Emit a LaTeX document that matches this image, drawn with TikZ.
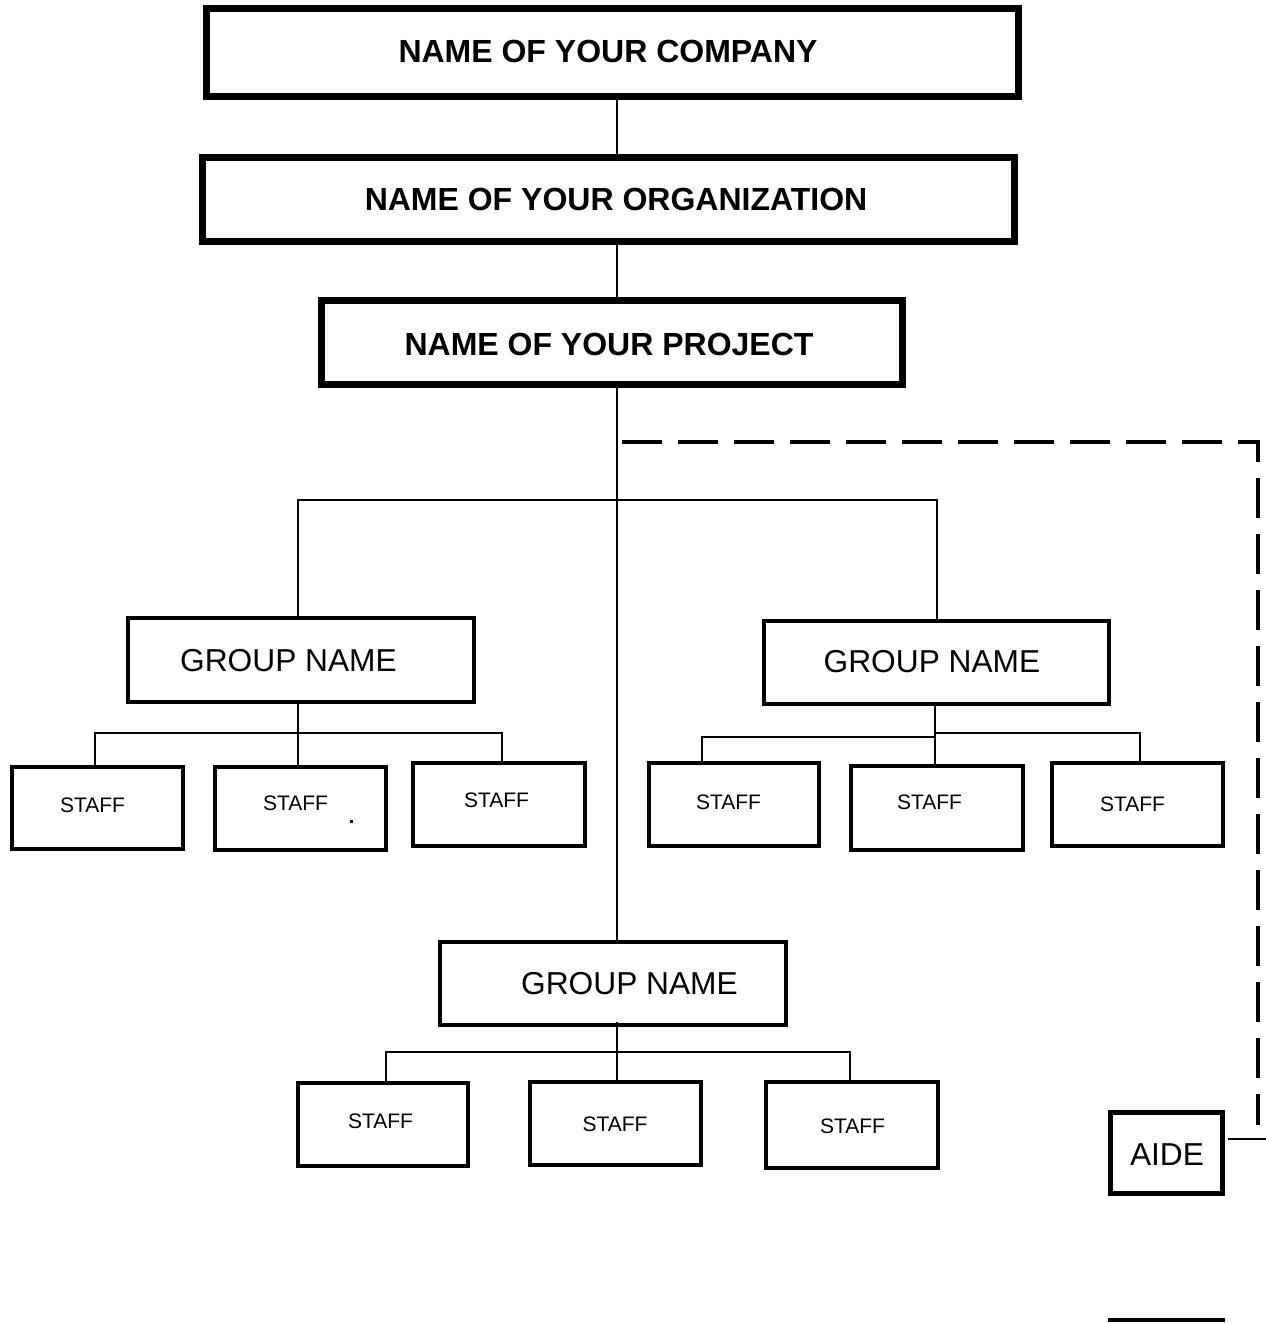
\documentclass[tikz,border=0pt]{standalone}
\usepackage{fontspec}
\setmainfont{Liberation Sans}
\begin{document}
\begin{tikzpicture}[x=1pt,y=-1pt,
  topbox/.style={draw=black,line width=7.5pt,inner sep=0pt},
  grpbox/.style={draw=black,line width=4pt,inner sep=0pt},
  staffbox/.style={draw=black,line width=4.5pt,inner sep=0pt},
  aidebox/.style={draw=black,line width=5pt,inner sep=0pt},
  toptext/.style={font=\fontsize{32}{36}\selectfont\bfseries,inner sep=0pt},
  grptext/.style={font=\fontsize{31.7}{36}\selectfont,inner sep=0pt},
  stafftext/.style={font=\fontsize{21}{25}\selectfont,inner sep=0pt},
  conn/.style={draw=black,line width=2pt},
  dashline/.style={draw=black,line width=3.2pt,dash pattern=on 40pt off 16pt},
]
\useasboundingbox (0,0) rectangle (1266,1323);
\fill[white] (0,0) rectangle (1266,1323);

% top boxes
\node[topbox,minimum width=812pt,minimum height=88pt] (comp) at (612.5,52.5) {};
\node[toptext] (compt) at (608,51) {NAME OF YOUR COMPANY};
\node[topbox,minimum width=812pt,minimum height=84pt] (org) at (608.5,199.5) {};
\node[toptext] (orgt) at (616,199) {NAME OF YOUR ORGANIZATION};
\node[topbox,minimum width=581pt,minimum height=84pt] (proj) at (612,342.5) {};
\node[toptext] (projt) at (609,344) {NAME OF YOUR PROJECT};

% groups
\node[grpbox,minimum width=346pt,minimum height=84pt] (g1) at (301,660) {};
\node[grptext] (g1t) at (288.5,660.5) {GROUP NAME};
\node[grpbox,minimum width=345pt,minimum height=83pt] (g2) at (936.5,662.5) {};
\node[grptext] (g2t) at (932,661.5) {GROUP NAME};
\node[grpbox,minimum width=346pt,minimum height=83pt] (g3) at (613,983.5) {};
\node[grptext] (g3t) at (629.5,983.5) {GROUP NAME};

% staff
\node[staffbox,minimum width=171pt,minimum height=82pt] (s1) at (97.5,808) {};
\node[stafftext] at (92.5,805) {STAFF};
\node[staffbox,minimum width=171pt,minimum height=83pt] (s2) at (300.5,808.5) {};
\node[stafftext] at (295.5,803) {STAFF};
\fill (349.5,819.5) rectangle (352.5,822.5);
\node[staffbox,minimum width=172pt,minimum height=83pt] (s3) at (499,804.5) {};
\node[stafftext] at (496.5,800.5) {STAFF};
\node[staffbox,minimum width=170pt,minimum height=83pt] (s4) at (734,804.5) {};
\node[stafftext] at (728.5,802.5) {STAFF};
\node[staffbox,minimum width=172pt,minimum height=84pt] (s5) at (937,808) {};
\node[stafftext] at (929.5,802.5) {STAFF};
\node[staffbox,minimum width=171pt,minimum height=83pt] (s6) at (1137.5,804.5) {};
\node[stafftext] at (1132.5,804.5) {STAFF};
\node[staffbox,minimum width=170pt,minimum height=83pt] (s7) at (383,1124.5) {};
\node[stafftext] at (380.5,1121.5) {STAFF};
\node[staffbox,minimum width=171pt,minimum height=83pt] (s8) at (615.5,1123.5) {};
\node[stafftext] at (615,1124.5) {STAFF};
\node[staffbox,minimum width=172pt,minimum height=86pt] (s9) at (852,1125) {};
\node[stafftext] at (852.5,1126.5) {STAFF};

% aide
\node[aidebox,minimum width=112pt,minimum height=81pt] (aide) at (1166.5,1153) {};
\node[grptext] (aidet) at (1167,1155) {AIDE};
\draw[black,line width=4pt] (1108,1320) -- (1225,1320);

% coordinates
\coordinate (spine) at (617,0);
\coordinate (bar) at (0,500);
\coordinate (g1x) at (298,0);
\coordinate (dashstart) at (622,442);
\coordinate (dashcorner) at (1258,442);
\coordinate (dashend) at (1258,1125);
\coordinate (aidelink) at (1228,1139);
\coordinate (aideedge) at (1266,1139);

% spine
\draw[conn] (comp.south -| spine) -- (org.north -| spine);
\draw[conn] (org.south -| spine) -- (proj.north -| spine);
\draw[conn] (proj.south -| spine) -- (g3.north -| spine);
\draw[conn] (g1.north -| g1x) -- (g1x |- bar) -- (g2.north |- bar) -- (g2.north);

% dashed aide link
\draw[dashline] (dashstart) -- (dashcorner) -- (dashend);
\draw[black,line width=2.5pt] (aidelink) -- (aideedge);

% group 1 staff
\draw[conn] (g1.south -| g1x) -- (s2.north -| g1x);
\draw[conn] (s1.north -| 95,0) -- (95,733) -- (502,733) -- (s3.north -| 502,0);
% group 2 staff
\draw[conn] (g2.south -| 935,0) -- (s5.north -| 935,0);
\draw[conn] (s4.north -| 702,0) -- (702,737) -- (935,737);
\draw[conn] (935,733) -- (1140,733) -- (s6.north -| 1140,0);
% group 3 staff
\draw[conn] (617,1022) -- (s8.north -| 617,0);
\draw[conn] (s7.north -| 386,0) -- (386,1052) -- (850,1052) -- (s9.north -| 850,0);
\end{tikzpicture}
\end{document}
